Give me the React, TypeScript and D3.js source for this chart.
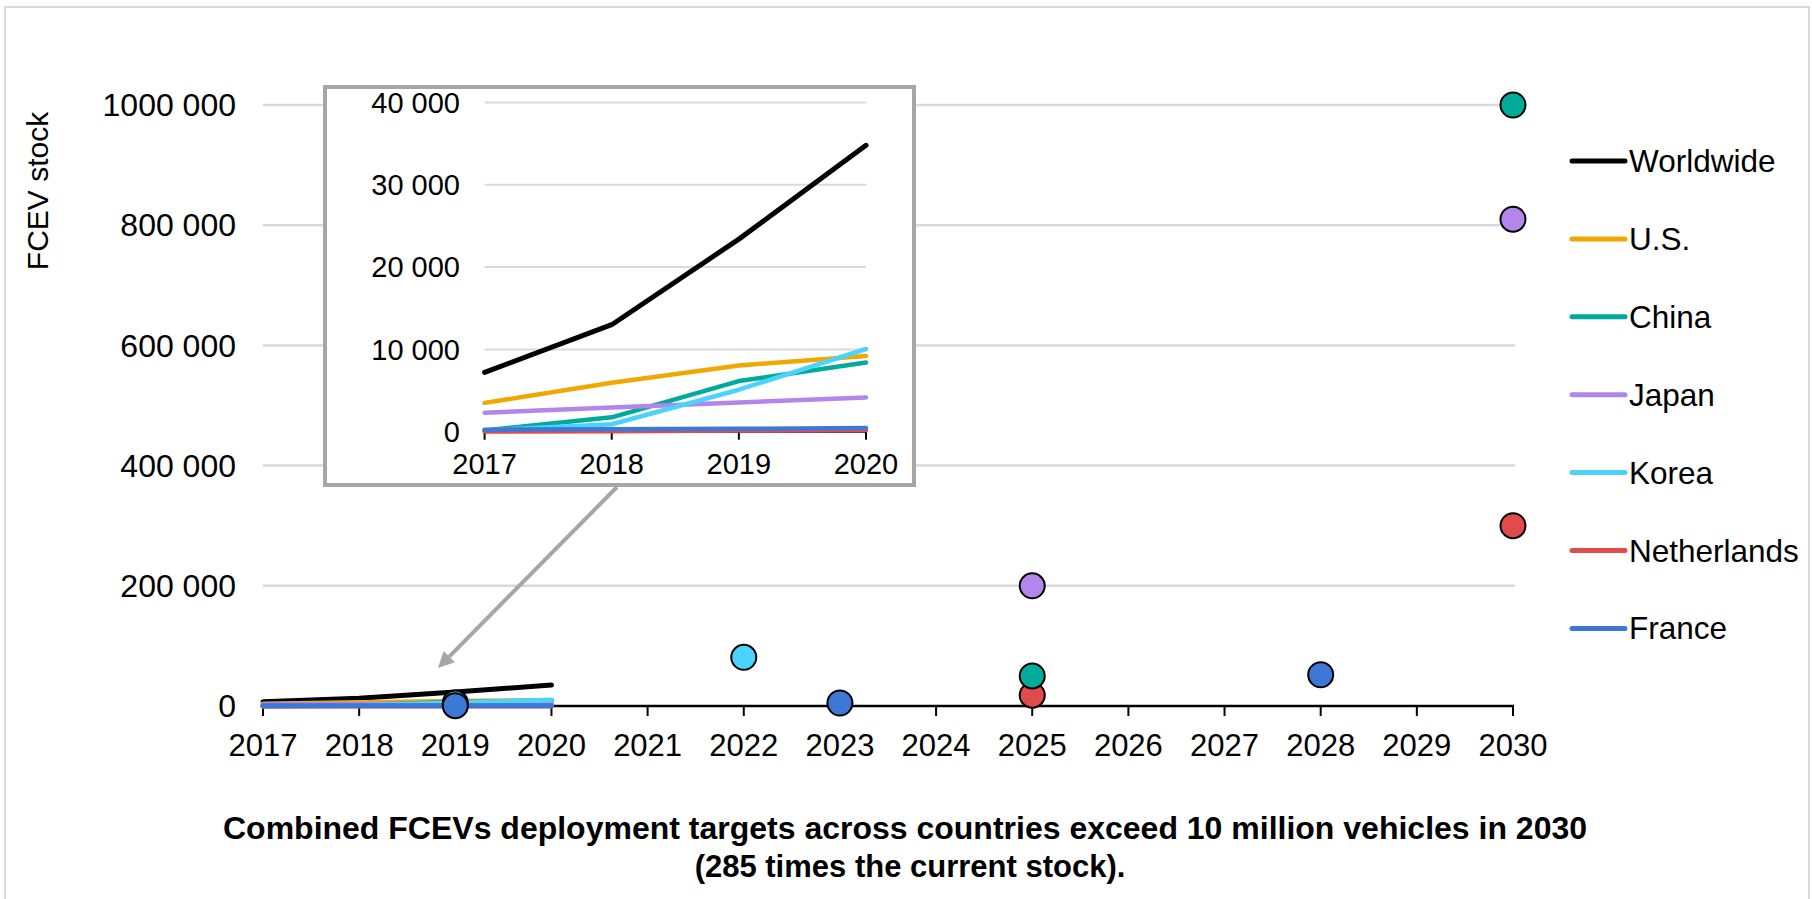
import React from "react";
import * as d3 from "d3";

// ---------- data ----------
const years = [2017, 2018, 2019, 2020];
const xTickYears = [2017, 2018, 2019, 2020, 2021, 2022, 2023, 2024, 2025, 2026, 2027, 2028, 2029, 2030];
const yTickValues = [0, 200000, 400000, 600000, 800000, 1000000];
const yTickLabels = ["0", "200 000", "400 000", "600 000", "800 000", "1000 000"];
const insetTickValues = [0, 10000, 20000, 30000, 40000];
const insetTickLabels = ["0", "10 000", "20 000", "30 000", "40 000"];

const worldwide = [7200, 13000, 23400, 34800];
const us = [3500, 5950, 8050, 9200];
const china = [150, 1750, 6150, 8400];
const japan = [2300, 2950, 3550, 4150];
const korea = [150, 900, 5100, 10050];
const netherlands = [30, 60, 150, 200];
const france = [250, 300, 350, 450];

const seriesNames = ["Worldwide", "U.S.", "China", "Japan", "Korea", "Netherlands", "France"];
const seriesColors = ["#000000", "#f0a800", "#00ab9c", "#b286ea", "#4cd3fc", "#e24b4b", "#3d78d6"];
const seriesValues = [worldwide, us, china, japan, korea, netherlands, france];

// targets (scatter points)
const koreaTargetYears = [2019, 2022];
const koreaTargets = [5000, 81000];
const netherlandsTargetYears = [2025, 2030];
const netherlandsTargets = [18000, 300000];
const chinaTargetYears = [2025, 2030];
const chinaTargets = [50000, 1000000];
const japanTargetYears = [2025, 2030];
const japanTargets = [200000, 810000];
const franceTargetYears = [2019, 2023, 2028];
const franceTargets = [500, 5000, 52000];

const targetGroups = [
  { color: "#4cd3fc", years: koreaTargetYears, values: koreaTargets },
  { color: "#e24b4b", years: netherlandsTargetYears, values: netherlandsTargets },
  { color: "#00ab9c", years: chinaTargetYears, values: chinaTargets },
  { color: "#b286ea", years: japanTargetYears, values: japanTargets },
  { color: "#3d78d6", years: franceTargetYears, values: franceTargets },
];

const titleLine1 = "Combined FCEVs deployment targets across countries exceed 10 million vehicles in 2030";
const titleLine2 = "(285 times the current stock).";
const yAxisTitle = "FCEV stock";

const FONT = "Arial, 'Liberation Sans', Helvetica, sans-serif";

export default function App() {
  const W = 1812;
  const H = 899;

  const x = d3.scaleLinear().domain([2017, 2030]).range([263, 1513]);
  const y = d3.scaleLinear().domain([0, 1000000]).range([706, 105]);

  const xi = d3.scaleLinear().domain([2017, 2020]).range([484.6, 866]);
  const yi = d3.scaleLinear().domain([0, 40000]).range([431.7, 102.5]);

  const lineMain = d3
    .line<number>()
    .x((_, i) => x(years[i]))
    .y((d) => y(d));
  const lineInset = d3
    .line<number>()
    .x((_, i) => xi(years[i]))
    .y((d) => yi(d));

  // arrow annotation
  const ax0 = 617, ay0 = 487, ax1 = 438, ay1 = 668;
  const ang = Math.atan2(ay1 - ay0, ax1 - ax0);
  const headLen = 16, headW = 8;
  const bx = ax1 - headLen * Math.cos(ang);
  const by = ay1 - headLen * Math.sin(ang);
  const px = -Math.sin(ang) * headW;
  const py = Math.cos(ang) * headW;

  return (
    <svg
      width={W}
      height={H}
      style={{ position: "absolute", left: 0, top: 0, background: "#fff" }}
      fontFamily={FONT}
    >
      <rect x={0} y={0} width={W} height={H} fill="#fff" />
      <rect x={5} y={7} width={1804} height={900} fill="none" stroke="#d9d9d9" strokeWidth={2} />

      {/* main gridlines */}
      {yTickValues.slice(1).map((v) => (
        <line key={v} x1={263} x2={1515} y1={y(v)} y2={y(v)} stroke="#d9d9d9" strokeWidth={2.5} />
      ))}

      {/* y tick labels */}
      {yTickValues.map((v, i) => (
        <text key={v} x={236} y={y(v)} dy="0.35em" textAnchor="end" fontSize={32} fill="#000">
          {yTickLabels[i]}
        </text>
      ))}

      {/* y axis title */}
      <text transform="translate(48,191) rotate(-90)" textAnchor="middle" fontSize={30} fill="#000">
        {yAxisTitle}
      </text>

      {/* x axis */}
      <line x1={262} x2={1514} y1={y(0)} y2={y(0)} stroke="#000" strokeWidth={2.5} />
      {xTickYears.map((yr) => (
        <g key={yr}>
          <line x1={x(yr)} x2={x(yr)} y1={y(0)} y2={y(0) + 10} stroke="#000" strokeWidth={2} />
          <text x={x(yr)} y={756} textAnchor="middle" fontSize={31} fill="#000">
            {yr}
          </text>
        </g>
      ))}

      {/* main lines */}
      {seriesValues.map((vals, i) => (
        <path
          key={seriesNames[i]}
          d={lineMain(vals) || ""}
          fill="none"
          stroke={seriesColors[i]}
          strokeWidth={5}
          strokeLinecap="round"
          strokeLinejoin="round"
        />
      ))}

      {/* target dots */}
      {targetGroups.map((g, gi) =>
        g.values.map((v, i) => (
          <circle
            key={gi + "-" + i}
            cx={x(g.years[i])}
            cy={y(v)}
            r={12.5}
            fill={g.color}
            stroke="#000"
            strokeWidth={2}
          />
        ))
      )}

      {/* arrow */}
      <line x1={ax0} y1={ay0} x2={bx} y2={by} stroke="#a6a6a6" strokeWidth={4} />
      <polygon
        points={`${ax1},${ay1} ${bx + px},${by + py} ${bx - px},${by - py}`}
        fill="#a6a6a6"
      />

      {/* inset box */}
      <rect x={325} y={87} width={589} height={398} fill="#fff" stroke="#a6a6a6" strokeWidth={4} />
      {insetTickValues.slice(1).map((v) => (
        <line key={v} x1={xi(2017)} x2={xi(2020)} y1={yi(v)} y2={yi(v)} stroke="#d9d9d9" strokeWidth={2} />
      ))}
      {insetTickValues.map((v, i) => (
        <text key={v} x={460} y={yi(v)} dy="0.35em" textAnchor="end" fontSize={29} fill="#000">
          {insetTickLabels[i]}
        </text>
      ))}
      <line x1={xi(2017)} x2={xi(2020)} y1={yi(0)} y2={yi(0)} stroke="#000" strokeWidth={2} />
      {years.map((yr) => (
        <g key={yr}>
          <line x1={xi(yr)} x2={xi(yr)} y1={yi(0)} y2={yi(0) + 8} stroke="#000" strokeWidth={2} />
          <text x={xi(yr)} y={474} textAnchor="middle" fontSize={29} fill="#000">
            {yr}
          </text>
        </g>
      ))}
      {seriesValues.map((vals, i) => (
        <path
          key={"in-" + seriesNames[i]}
          d={lineInset(vals) || ""}
          fill="none"
          stroke={seriesColors[i]}
          strokeWidth={i === 0 ? 5 : 4.5}
          strokeLinecap="round"
          strokeLinejoin="round"
        />
      ))}

      {/* legend */}
      {seriesNames.map((name, i) => {
        const ly = 161 + i * 77.9;
        return (
          <g key={"lg-" + name}>
            <line x1={1572} x2={1625} y1={ly} y2={ly} stroke={seriesColors[i]} strokeWidth={5} strokeLinecap="round" />
            <text x={1629} y={ly} dy="0.35em" fontSize={31.5} fill="#000">
              {name}
            </text>
          </g>
        );
      })}

      {/* caption */}
      <text x={905} y={839} textAnchor="middle" fontSize={32} fontWeight="bold" fill="#000">
        {titleLine1}
      </text>
      <text x={910} y={877} textAnchor="middle" fontSize={31} fontWeight="bold" fill="#000">
        {titleLine2}
      </text>
    </svg>
  );
}
